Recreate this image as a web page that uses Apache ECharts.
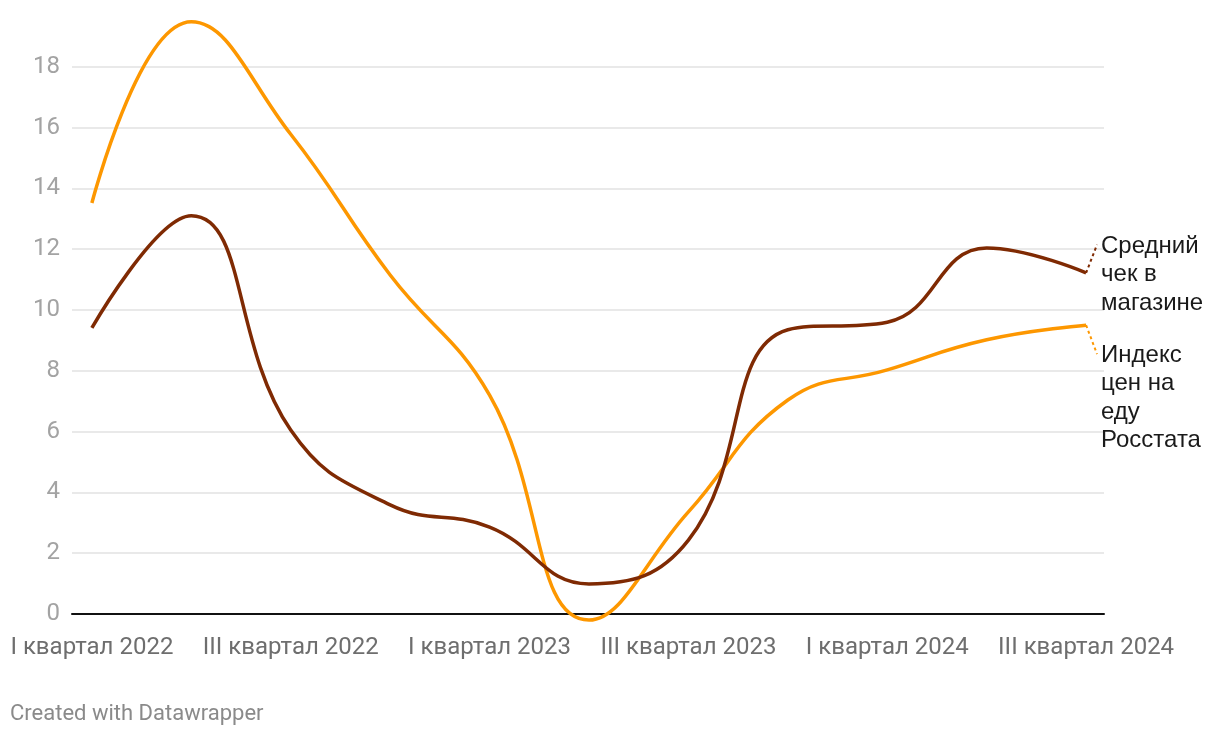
<!DOCTYPE html>
<html>
<head>
<meta charset="utf-8">
<script src="https://cdn.jsdelivr.net/npm/echarts@6/dist/echarts.min.js"></script>
<style>
html,body{margin:0;padding:0;background:#fff;}
#chart{width:1220px;height:738px;}
</style>
</head>
<body>
<div id="chart"></div>
<script>
const categories = ['I квартал 2022','II квартал 2022','III квартал 2022','IV квартал 2022','I квартал 2023','II квартал 2023','III квартал 2023','IV квартал 2023','I квартал 2024','II квартал 2024','III квартал 2024'];
const foodIndex = [13.52, 19.48, 15.78, 11.15, 7.2, -0.2, 3.36, 7.04, 8.03, 9.02, 9.5];
const avgCheck = [9.41, 13.1, 6.05, 3.59, 2.86, 0.99, 2.43, 9.35, 9.6, 12.04, 11.22];
const seriesNames = ['Средний\nчек в\nмагазине', 'Индекс\nцен на\nеду\nРосстата'];
const yTicks = [0,2,4,6,8,10,12,14,16,18];
const xLabelIdx = [0,2,4,6,8,10];

const BROWN = '#7f2a03';
const ORANGE = '#fd9700';

const toPairs = arr => arr.map((v,i)=>[i,v]);
const last = arr => arr.length - 1;

function connector(arr, labelY, color, name){
  const n = last(arr);
  return {
    type:'line', silent:true, clip:false, symbol:'none',
    data:[[n, arr[n]], [n+0.11, labelY]],
    lineStyle:{color:color, width:2, type:[3,3]},
    z:1,
    label:{show:false},
    endLabel:{
      show:true, formatter:name, color:'#1a1a1a',
      fontFamily:"'Liberation Sans', Arial, sans-serif", fontSize:24, lineHeight:28.5,
      align:'left', verticalAlign:'top', offset:[-2,-13], distance:6
    }
  };
}

const chart = echarts.init(document.getElementById('chart'));
chart.setOption({
  animation:false,
  backgroundColor:'#fff',
  grid:{left:72, right:116, top:6, bottom:124, containLabel:false},
  xAxis:{
    type:'value', min:-0.2, max:10.18,
    axisLine:{show:true, onZero:true, lineStyle:{color:'#111', width:2}},
    axisTick:{show:false},
    splitLine:{show:false},
    axisLabel:{
      customValues:xLabelIdx,
      formatter:v=>categories[Math.round(v)] || '',
      color:'#6e6e6e', fontFamily:'Roboto', fontSize:24, margin:22
    }
  },
  yAxis:{
    type:'value', min:0, max:20, interval:2,
    axisLine:{show:false}, axisTick:{show:false},
    splitLine:{show:true, showMinLine:false, showMaxLine:false, lineStyle:{color:'#e2e2e2', width:1.5}},
    axisLabel:{
      formatter:v=>yTicks.includes(v)?String(v):'',
      color:'#a3a3a3', fontFamily:'Roboto', fontSize:24, margin:12,
      verticalAlign:'middle', padding:[2,0,0,0]
    }
  },
  series:[
    {
      name:'food', type:'line', data:toPairs(foodIndex), clip:false,
      smooth:0.45, symbol:'none',
      lineStyle:{color:ORANGE, width:3.5}, z:3
    },
    {
      name:'check', type:'line', data:toPairs(avgCheck), clip:false,
      smooth:0.45, symbol:'none',
      lineStyle:{color:BROWN, width:3.5}, z:4
    },
    connector(avgCheck, 12.15, BROWN, seriesNames[0]),
    connector(foodIndex, 8.55, ORANGE, seriesNames[1])
  ],
  graphic:[{
    type:'text', left:10, top:703,
    style:{text:'Created with Datawrapper', fill:'#8a8a8a', font:'22px Roboto'}
  }]
});
</script>
</body>
</html>
